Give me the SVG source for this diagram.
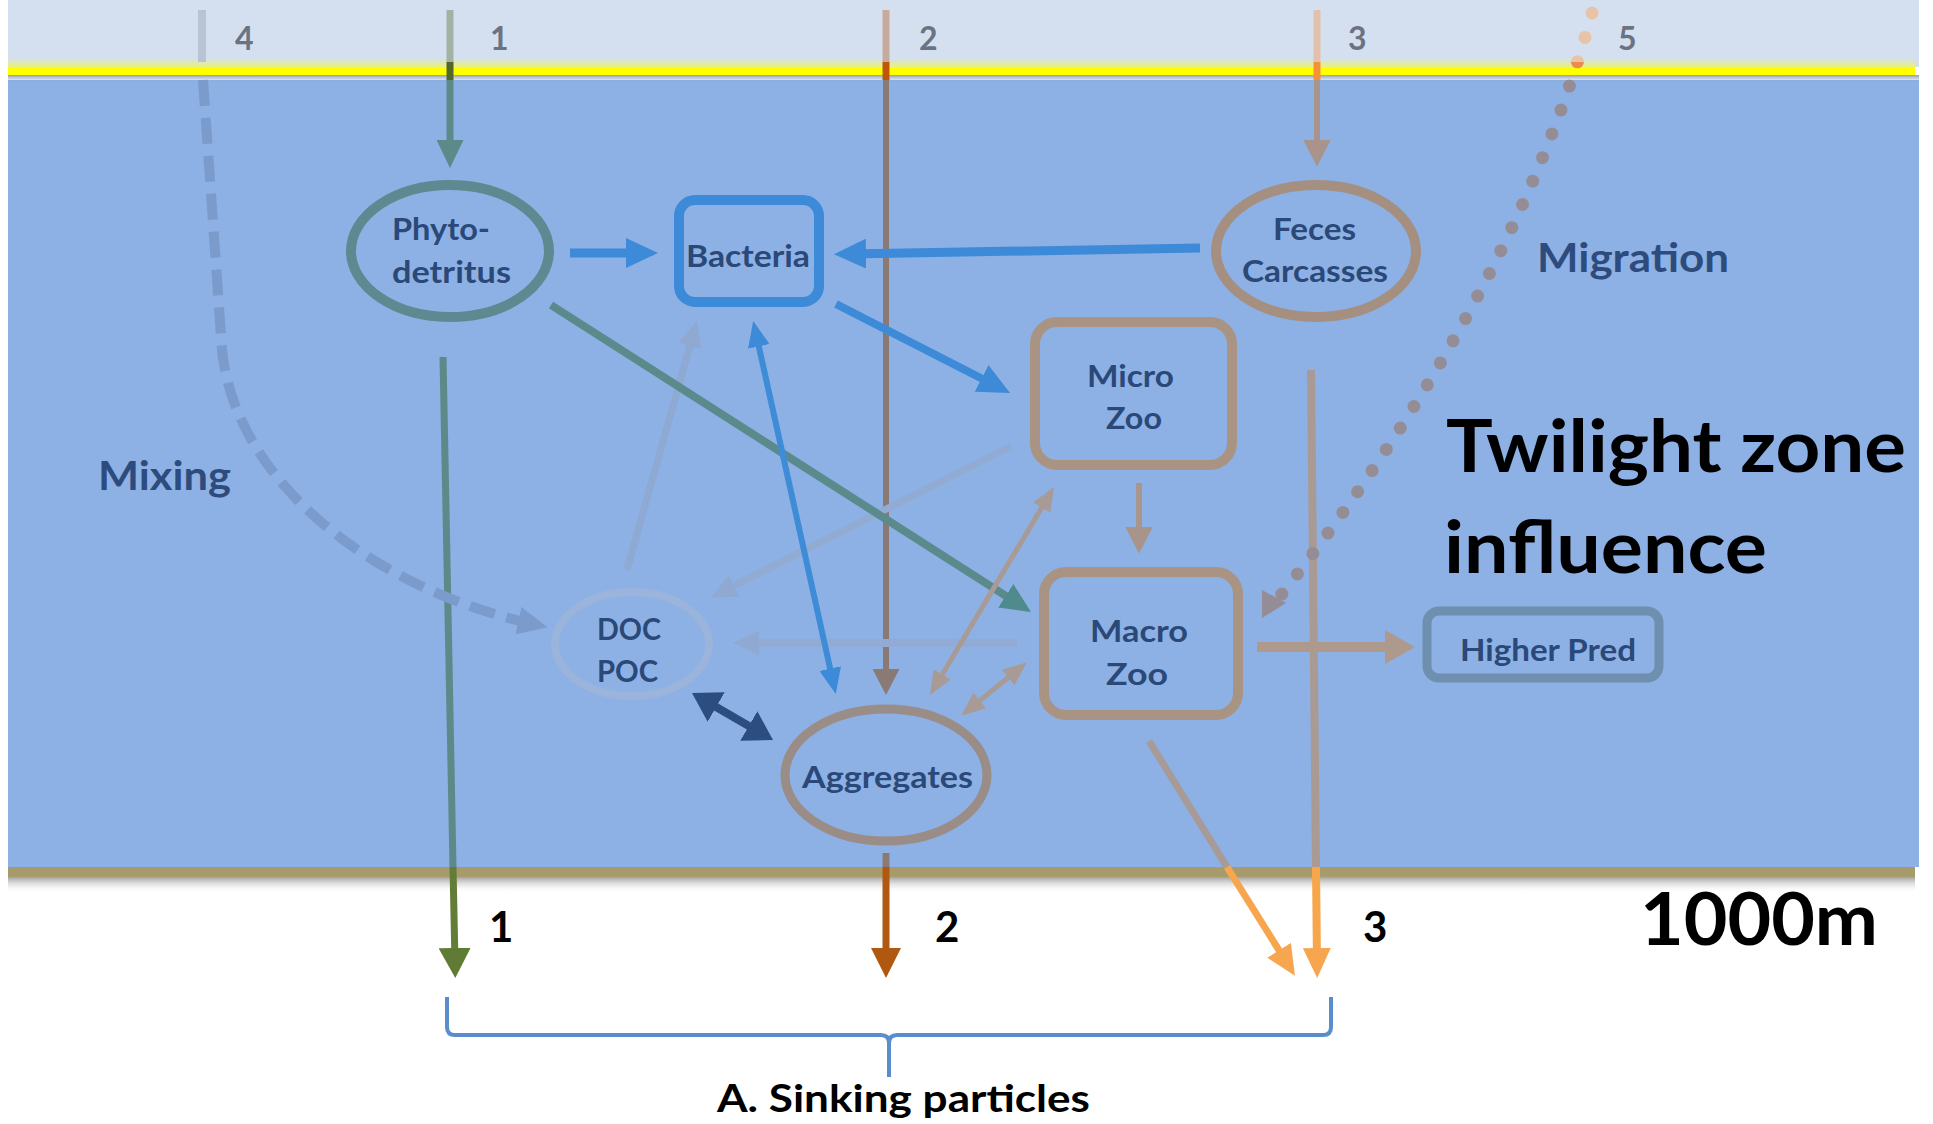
<svg xmlns="http://www.w3.org/2000/svg" width="1933" height="1124" viewBox="0 0 1933 1124">
<style>
.nt{font-family:Lato,"Open Sans","Liberation Sans",sans-serif;font-weight:bold;font-size:31px;fill:#2a4878}
.num{font-family:Lato,"Open Sans","Liberation Sans",sans-serif;font-weight:bold;font-size:32px;fill:#6b7383}
.lab{font-family:Lato,"Open Sans","Liberation Sans",sans-serif;font-weight:bold;font-size:41px;fill:#2d4c7d}
.big{font-family:Lato,"Open Sans","Liberation Sans",sans-serif;font-weight:bold;font-size:72px;fill:#000}
.bn{font-family:Lato,"Open Sans","Liberation Sans",sans-serif;font-weight:bold;font-size:42px;fill:#000}
.ln{fill:none;stroke-linecap:butt}
</style>
<defs>
<marker id="mk-teal1" viewBox="0 0 10 10" preserveAspectRatio="none" refX="5" refY="5" markerUnits="userSpaceOnUse" markerWidth="28" markerHeight="27" orient="auto-start-reverse"><path d="M0,0 L10,5 L0,10 z" fill="#5b8a88"/></marker>
<marker id="mk-olive" viewBox="0 0 10 10" preserveAspectRatio="none" refX="5" refY="5" markerUnits="userSpaceOnUse" markerWidth="30" markerHeight="32" orient="auto-start-reverse"><path d="M0,0 L10,5 L0,10 z" fill="#5f7b34"/></marker>
<marker id="mk-bgrey" viewBox="0 0 10 10" preserveAspectRatio="none" refX="5" refY="5" markerUnits="userSpaceOnUse" markerWidth="26" markerHeight="27" orient="auto-start-reverse"><path d="M0,0 L10,5 L0,10 z" fill="#8a7a75"/></marker>
<marker id="mk-brown" viewBox="0 0 10 10" preserveAspectRatio="none" refX="5" refY="5" markerUnits="userSpaceOnUse" markerWidth="30" markerHeight="30" orient="auto-start-reverse"><path d="M0,0 L10,5 L0,10 z" fill="#b0580f"/></marker>
<marker id="mk-tan" viewBox="0 0 10 10" preserveAspectRatio="none" refX="5" refY="5" markerUnits="userSpaceOnUse" markerWidth="27" markerHeight="28" orient="auto-start-reverse"><path d="M0,0 L10,5 L0,10 z" fill="#a8948a"/></marker>
<marker id="mk-orange" viewBox="0 0 10 10" preserveAspectRatio="none" refX="5" refY="5" markerUnits="userSpaceOnUse" markerWidth="30" markerHeight="28" orient="auto-start-reverse"><path d="M0,0 L10,5 L0,10 z" fill="#f7a54f"/></marker>
<marker id="mk-blue" viewBox="0 0 10 10" preserveAspectRatio="none" refX="5" refY="5" markerUnits="userSpaceOnUse" markerWidth="32" markerHeight="30" orient="auto-start-reverse"><path d="M0,0 L10,5 L0,10 z" fill="#3c8ad8"/></marker>
<marker id="mk-blue-s" viewBox="0 0 10 10" preserveAspectRatio="none" refX="5" refY="5" markerUnits="userSpaceOnUse" markerWidth="26" markerHeight="22" orient="auto-start-reverse"><path d="M0,0 L10,5 L0,10 z" fill="#3c8ad8"/></marker>
<marker id="mk-lblue" viewBox="0 0 10 10" preserveAspectRatio="none" refX="5" refY="5" markerUnits="userSpaceOnUse" markerWidth="26" markerHeight="24" orient="auto-start-reverse"><path d="M0,0 L10,5 L0,10 z" fill="#8fa9d2"/></marker>
<marker id="mk-teal" viewBox="0 0 10 10" preserveAspectRatio="none" refX="5" refY="5" markerUnits="userSpaceOnUse" markerWidth="30" markerHeight="28" orient="auto-start-reverse"><path d="M0,0 L10,5 L0,10 z" fill="#4f8a8c"/></marker>
<marker id="mk-tg" viewBox="0 0 10 10" preserveAspectRatio="none" refX="5" refY="5" markerUnits="userSpaceOnUse" markerWidth="24" markerHeight="20" orient="auto-start-reverse"><path d="M0,0 L10,5 L0,10 z" fill="#a89a95"/></marker>
<marker id="mk-tan2" viewBox="0 0 10 10" preserveAspectRatio="none" refX="5" refY="5" markerUnits="userSpaceOnUse" markerWidth="30" markerHeight="34" orient="auto-start-reverse"><path d="M0,0 L10,5 L0,10 z" fill="#ad9a8d"/></marker>
<marker id="mk-navy" viewBox="0 0 10 10" preserveAspectRatio="none" refX="5" refY="5" markerUnits="userSpaceOnUse" markerWidth="28" markerHeight="34" orient="auto-start-reverse"><path d="M0,0 L10,5 L0,10 z" fill="#2b4d80"/></marker>
<marker id="mk-dash" viewBox="0 0 10 10" preserveAspectRatio="none" refX="5" refY="5" markerUnits="userSpaceOnUse" markerWidth="30" markerHeight="28" orient="auto"><path d="M0,0 L10,5 L0,10 z" fill="#7b9bcc"/></marker>
<clipPath id="cTop"><rect x="0" y="0" width="1933" height="62"/></clipPath>
<clipPath id="cYel"><rect x="0" y="62" width="1933" height="18"/></clipPath>
<clipPath id="cWat"><rect x="0" y="80" width="1933" height="1044"/></clipPath>
<linearGradient id="gShadow1" x1="0" y1="0" x2="0" y2="1"><stop offset="0" stop-color="#7d8896" stop-opacity="0.8"/><stop offset="1" stop-color="#8db1e4" stop-opacity="0"/></linearGradient>
<linearGradient id="gShadow2" x1="0" y1="0" x2="0" y2="1"><stop offset="0" stop-color="#8a8a8a" stop-opacity="0.8"/><stop offset="1" stop-color="#ffffff" stop-opacity="0"/></linearGradient>
<linearGradient id="gFringe" x1="0" y1="0" x2="0" y2="1"><stop offset="0" stop-color="#d4e0ef"/><stop offset="1" stop-color="#e9f07a"/></linearGradient>
</defs>
<rect x="0" y="0" width="1933" height="1124" fill="#ffffff"/>
<g id="background">
<rect x="8" y="0" width="1911" height="67" fill="#d4e0ef"/>
<rect x="8" y="58" width="1907" height="9" fill="url(#gFringe)"/>
<rect x="8" y="80" width="1911" height="787" fill="#8db1e4"/>
<rect x="8" y="75" width="1911" height="8" fill="url(#gShadow1)"/>
<rect x="8" y="67" width="1907" height="8" fill="#ffff00"/>
<rect x="8" y="867" width="1907" height="10" fill="#a89b6b"/>
<rect x="8" y="877" width="1907" height="16" fill="url(#gShadow2)"/>
</g>
<g id="connectors">
<line class="ln" x1="450" y1="10" x2="450" y2="62" stroke="#a2b3a6" stroke-width="7"/>
<line class="ln" x1="450" y1="62" x2="450" y2="80" stroke="#52652a" stroke-width="7"/>
<line class="ln" x1="450" y1="80" x2="450" y2="154" stroke="#5b8a88" stroke-width="7" marker-end="url(#mk-teal1)"/>
<line class="ln" x1="443" y1="357" x2="453" y2="867" stroke="#5d8a88" stroke-width="7"/>
<line class="ln" x1="453" y1="867" x2="455" y2="963" stroke="#637d37" stroke-width="7" marker-end="url(#mk-olive)"/>
<line class="ln" x1="886" y1="10" x2="886" y2="62" stroke="#c6ab9d" stroke-width="7"/>
<line class="ln" x1="886" y1="62" x2="886" y2="80" stroke="#c0560b" stroke-width="7"/>
<line class="ln" x1="886" y1="80" x2="886" y2="682" stroke="#8a7a75" stroke-width="6" marker-end="url(#mk-bgrey)"/>
<line class="ln" x1="886" y1="853" x2="886" y2="867" stroke="#8a7a75" stroke-width="7"/>
<line class="ln" x1="886" y1="867" x2="886" y2="963" stroke="#b0580f" stroke-width="7" marker-end="url(#mk-brown)"/>
<line class="ln" x1="1317" y1="10" x2="1317" y2="62" stroke="#e2c0aa" stroke-width="7"/>
<line class="ln" x1="1317" y1="62" x2="1317" y2="80" stroke="#f7903a" stroke-width="7"/>
<line class="ln" x1="1317" y1="80" x2="1317" y2="153" stroke="#a8948a" stroke-width="6" marker-end="url(#mk-tan)"/>
<line class="ln" x1="1311" y1="370" x2="1316" y2="867" stroke="#a99a94" stroke-width="8"/>
<line class="ln" x1="1316" y1="867" x2="1317" y2="963" stroke="#f8a64c" stroke-width="8" marker-end="url(#mk-orange)"/>
<line class="ln" x1="1149" y1="741" x2="1227" y2="867" stroke="#a89a96" stroke-width="7"/>
<line class="ln" x1="1227" y1="867" x2="1287" y2="963" stroke="#f7a54f" stroke-width="7" marker-end="url(#mk-orange)"/>
<line class="ln" x1="202" y1="10" x2="202" y2="62" stroke="#b9c3d3" stroke-width="8"/>
<path class="ln" d="M203,80 L222,350 C235,480 370,588 533,624" stroke="#7b9bcc" stroke-width="10" stroke-dasharray="26 12" marker-end="url(#mk-dash)"/>
<g fill="none" stroke-width="13" stroke-linecap="round" stroke-dasharray="0 25.5">
<path clip-path="url(#cTop)" d="M1592,13 Q1512,303 1274,604" stroke="#e8c3a8"/>
<path clip-path="url(#cYel)" d="M1592,13 Q1512,303 1274,604" stroke="#ee8a4e"/>
<path clip-path="url(#cWat)" d="M1592,13 Q1512,303 1274,604" stroke="#958d95"/>
</g>
<path d="M1262,590 L1286,603 L1262,618 z" fill="#958d95"/>
<line class="ln" x1="627" y1="570" x2="693.3" y2="333.5" stroke="#8ea9d2" stroke-width="7" marker-end="url(#mk-lblue)"/>
<line class="ln" x1="1011" y1="446" x2="722.5" y2="591.7" stroke="#91abd2" stroke-width="7" marker-end="url(#mk-lblue)"/>
<line class="ln" x1="1017" y1="643" x2="746" y2="643" stroke="#91abd5" stroke-width="8" marker-end="url(#mk-lblue)"/>
<line class="ln" x1="551" y1="305" x2="1018.4" y2="603.9" stroke="#5b8a8c" stroke-width="8" marker-end="url(#mk-teal)"/>
<line class="ln" x1="570" y1="253" x2="642" y2="253" stroke="#3c8ad8" stroke-width="9" marker-end="url(#mk-blue)"/>
<line class="ln" x1="1200" y1="248" x2="850" y2="254" stroke="#3c8ad8" stroke-width="9" marker-end="url(#mk-blue)"/>
<line class="ln" x1="836" y1="304" x2="995.8" y2="385.7" stroke="#3c8ad8" stroke-width="8" marker-end="url(#mk-blue)"/>
<line class="ln" x1="756" y1="333.7" x2="833" y2="681.3" stroke="#3e8bd7" stroke-width="6" marker-start="url(#mk-blue-s)" marker-end="url(#mk-blue-s)"/>
<line class="ln" x1="936.1" y1="684.7" x2="1047.9" y2="497.3" stroke="#a89a95" stroke-width="5" marker-start="url(#mk-tg)" marker-end="url(#mk-tg)"/>
<line class="ln" x1="970.5" y1="708.1" x2="1017.5" y2="669.9" stroke="#a89a95" stroke-width="5" marker-start="url(#mk-tg)" marker-end="url(#mk-tg)"/>
<line class="ln" x1="1139" y1="483" x2="1139" y2="540" stroke="#a8968c" stroke-width="6" marker-end="url(#mk-tan)"/>
<line class="ln" x1="1257" y1="647" x2="1400" y2="647" stroke="#ad9a8d" stroke-width="10" marker-end="url(#mk-tan2)"/>
<line class="ln" x1="704.1" y1="700" x2="760.9" y2="733" stroke="#2b4d80" stroke-width="8" marker-start="url(#mk-navy)" marker-end="url(#mk-navy)"/>
<path d="M447,997 L447,1027 Q447,1035 455,1035 L881,1035 Q889,1035 889,1043 L889,1077 M889,1043 Q889,1035 897,1035 L1323,1035 Q1331,1035 1331,1027 L1331,997" fill="none" stroke="#5a8dcb" stroke-width="4"/>
</g>
<g id="node-phyto">
<ellipse cx="450" cy="251" rx="99" ry="66" fill="none" stroke="#5e8990" stroke-width="10"/>
<text class="nt" x="392" y="240" textLength="98" lengthAdjust="spacingAndGlyphs">Phyto-</text>
<text class="nt" x="392" y="283" textLength="119" lengthAdjust="spacingAndGlyphs">detritus</text>
</g>
<g id="node-bacteria">
<rect x="679" y="200" width="140" height="102" rx="16" fill="none" stroke="#3c8ad8" stroke-width="10"/>
<text class="nt" x="686" y="267" textLength="124" lengthAdjust="spacingAndGlyphs">Bacteria</text>
</g>
<g id="node-feces">
<ellipse cx="1316" cy="251" rx="100" ry="66" fill="none" stroke="#a48f80" stroke-width="10"/>
<text class="nt" x="1273" y="240" textLength="83" lengthAdjust="spacingAndGlyphs">Feces</text>
<text class="nt" x="1242" y="282" textLength="146" lengthAdjust="spacingAndGlyphs">Carcasses</text>
</g>
<g id="node-microzoo">
<rect x="1035" y="322" width="197" height="143" rx="22" fill="none" stroke="#a99484" stroke-width="10"/>
<text class="nt" x="1087" y="387" textLength="87" lengthAdjust="spacingAndGlyphs">Micro</text>
<text class="nt" x="1106" y="429" textLength="56" lengthAdjust="spacingAndGlyphs">Zoo</text>
</g>
<g id="node-macrozoo">
<rect x="1044" y="572" width="194" height="143" rx="22" fill="none" stroke="#a99484" stroke-width="10"/>
<text class="nt" x="1090" y="642" textLength="98" lengthAdjust="spacingAndGlyphs">Macro</text>
<text class="nt" x="1106" y="685" textLength="62" lengthAdjust="spacingAndGlyphs">Zoo</text>
</g>
<g id="node-higherpred">
<rect x="1427" y="611" width="232" height="67" rx="12" fill="none" stroke="#6e90ae" stroke-width="9"/>
<text class="nt" x="1460" y="661" textLength="176" lengthAdjust="spacingAndGlyphs">Higher Pred</text>
</g>
<g id="node-docpoc">
<ellipse cx="632" cy="644" rx="77" ry="52" fill="none" stroke="#9ab4db" stroke-width="8"/>
<text class="nt" x="597" y="640" textLength="64" lengthAdjust="spacingAndGlyphs">DOC</text>
<text class="nt" x="597" y="682" textLength="61" lengthAdjust="spacingAndGlyphs">POC</text>
</g>
<g id="node-aggregates">
<ellipse cx="886" cy="775" rx="101" ry="66" fill="none" stroke="#9a8c86" stroke-width="9"/>
<text class="nt" x="802" y="788" textLength="171" lengthAdjust="spacingAndGlyphs">Aggregates</text>
</g>
<g id="labels">
<text class="num" x="235" y="50">4</text>
<text class="num" x="490" y="50">1</text>
<text class="num" x="919" y="50">2</text>
<text class="num" x="1348" y="50">3</text>
<text class="num" x="1618" y="50">5</text>
<text class="lab" x="1537" y="272" textLength="192" lengthAdjust="spacingAndGlyphs">Migration</text>
<text class="lab" x="98" y="490" textLength="133" lengthAdjust="spacingAndGlyphs">Mixing</text>
<text class="big" x="1446" y="472" textLength="460" lengthAdjust="spacingAndGlyphs">Twilight zone</text>
<text class="big" x="1444" y="573" textLength="323" lengthAdjust="spacingAndGlyphs">influence</text>
<text class="big" x="1640" y="945" textLength="238" lengthAdjust="spacingAndGlyphs">1000m</text>
<text class="bn" x="489" y="942">1</text>
<text class="bn" x="935" y="942">2</text>
<text class="bn" x="1363" y="942">3</text>
<text class="bn" x="717" y="1112" style="font-size:38px" textLength="373" lengthAdjust="spacingAndGlyphs">A. Sinking particles</text>
</g>
</svg>
